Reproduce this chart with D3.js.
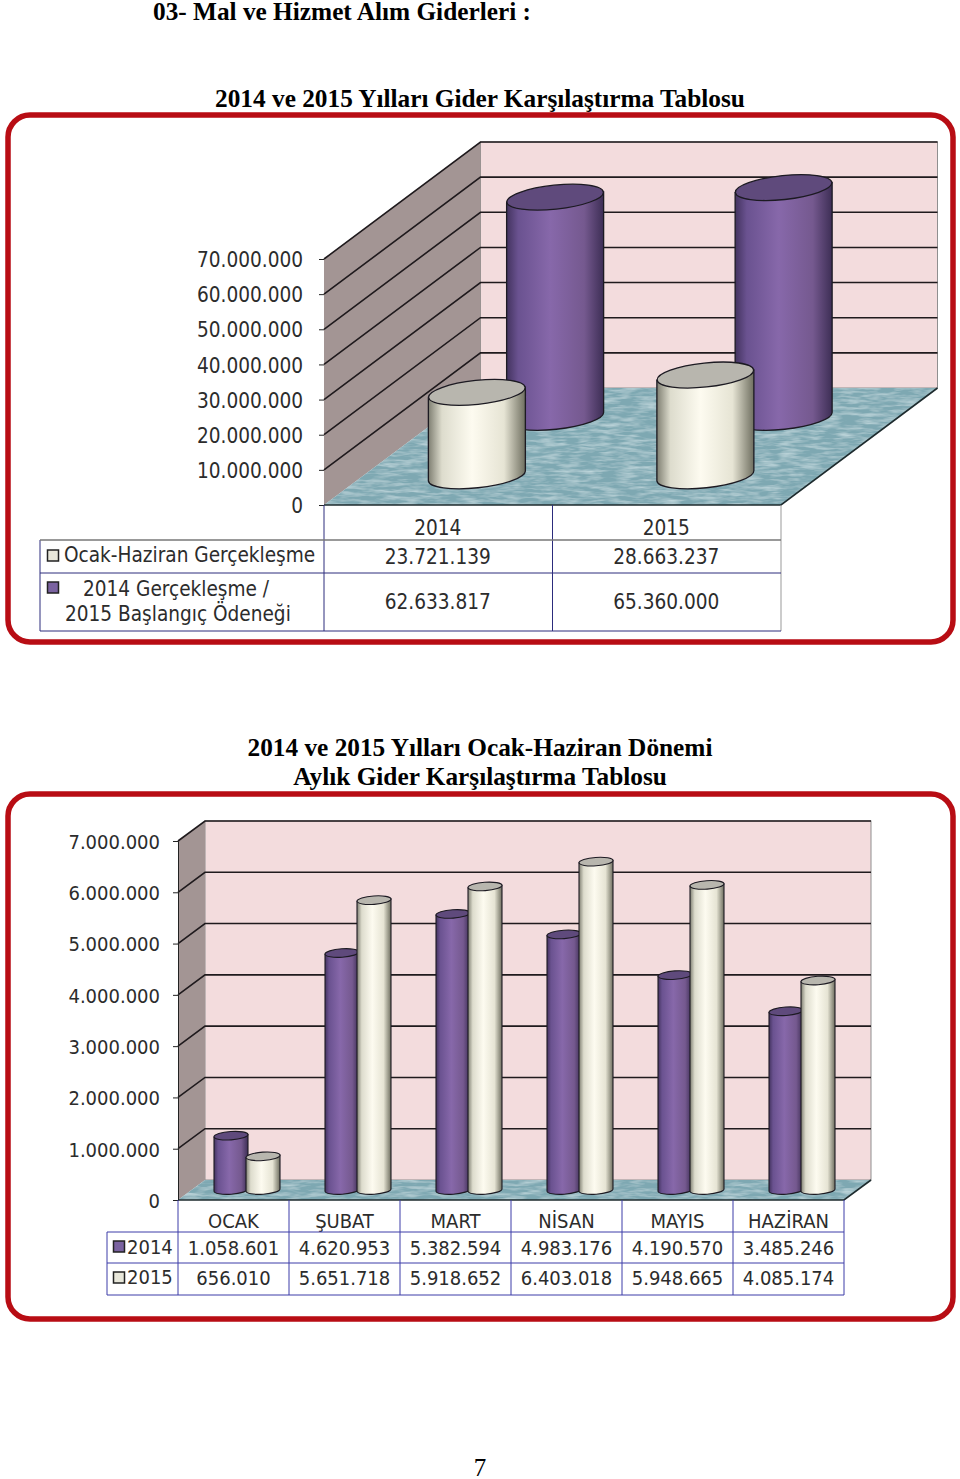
<!DOCTYPE html>
<html>
<head>
<meta charset="utf-8">
<script src="https://cdn.jsdelivr.net/npm/d3@7"></script>
<style>
  html, body { margin: 0; padding: 0; background: #fff; }
  svg { display: block; }
  .title { font-family: "Liberation Serif", serif; font-weight: bold; font-size: 25.3px; fill: #000; }
  .lbl { font-family: "DejaVu Sans Condensed", "DejaVu Sans", sans-serif; font-size: 20.6px; fill: #2c2c2c; }
  .tick text { font-family: "DejaVu Sans Condensed", "DejaVu Sans", sans-serif; font-size: 20.6px; fill: #2c2c2c; }
  .small .lbl, .small .tick text { font-size: 20px; }
</style>
</head>
<body>
<script>
// Data
var years = ["2014", "2015"];
var legend1 = ["Ocak-Haziran Gerçekleşme", "2014 Gerçekleşme /", "2015 Başlangıç Ödeneği"];
var ocakHaziran = [23721139, 28663237];
var baslangic = [62633817, 65360000];

var months = ["OCAK", "ŞUBAT", "MART", "NİSAN", "MAYIS", "HAZİRAN"];
var monthly2014 = [1058601, 4620953, 5382594, 4983176, 4190570, 3485246];
var monthly2015 = [656010, 5651718, 5918652, 6403018, 5948665, 4085174];

var ticks1 = [0, 10000000, 20000000, 30000000, 40000000, 50000000, 60000000, 70000000];
var ticks2 = [0, 1000000, 2000000, 3000000, 4000000, 5000000, 6000000, 7000000];

var width = 960, height = 1479;
var trLocale = d3.formatLocale({decimal: ",", thousands: ".", grouping: [3], currency: ["", ""]});
var fmt = trLocale.format(",d");

var svg = d3.select("body").append("svg")
    .attr("width", width)
    .attr("height", height);

// Gradients and floor texture
var defs = svg.append("defs");

function cylGradient(id, stops) {
    var grad = defs.append("linearGradient").attr("id", id);
    stops.forEach(function(s) {
        grad.append("stop").attr("offset", s[0]).attr("stop-color", s[1]);
    });
}
cylGradient("purpleSide", [[0, "#43335f"], [0.12, "#6a5290"], [0.45, "#8768aa"], [0.8, "#75598f"], [1, "#3d2e55"]]);
cylGradient("creamSide", [[0, "#7f7f72"], [0.14, "#dddccd"], [0.45, "#fdfbf0"], [0.78, "#e6e4d4"], [1, "#6f6f60"]]);

var water = defs.append("filter").attr("id", "water")
    .attr("x", 0).attr("y", 0).attr("width", 1).attr("height", 1);
water.append("feTurbulence")
    .attr("type", "fractalNoise")
    .attr("baseFrequency", "0.05 0.3")
    .attr("numOctaves", 3)
    .attr("seed", 4)
    .attr("result", "noise");
water.append("feColorMatrix")
    .attr("in", "noise")
    .attr("type", "matrix")
    .attr("values", "0 0 0 0 0.66  0 0 0 0 0.80  0 0 0 0 0.83  0 0 0 1.3 -0.5")
    .attr("result", "spots");
water.append("feComposite")
    .attr("in", "spots")
    .attr("in2", "SourceGraphic")
    .attr("operator", "in")
    .attr("result", "clipped");
var merge = water.append("feMerge");
merge.append("feMergeNode").attr("in", "SourceGraphic");
merge.append("feMergeNode").attr("in", "clipped");

// Page texts
function title(txt, y) {
    svg.append("text").attr("class", "title")
        .attr("x", 480).attr("y", y)
        .attr("text-anchor", "middle")
        .text(txt);
}
svg.append("text").attr("class", "title")
    .attr("x", 153).attr("y", 20)
    .text("03- Mal ve Hizmet Alım Giderleri :");
title("2014 ve 2015 Yılları Gider Karşılaştırma Tablosu", 107);
title("2014 ve 2015 Yılları Ocak-Haziran Dönemi", 756);
title("Aylık Gider Karşılaştırma Tablosu", 785);
svg.append("text")
    .attr("x", 480).attr("y", 1476)
    .attr("text-anchor", "middle")
    .style("font-family", "Liberation Serif")
    .style("font-size", "25px")
    .text("7");

function frame(y, h) {
    svg.append("rect")
        .attr("x", 8).attr("y", y)
        .attr("width", 945).attr("height", h)
        .attr("rx", 22).attr("ry", 22)
        .attr("fill", "#fff")
        .attr("stroke", "#b80d14")
        .attr("stroke-width", 5.5);
}
frame(115, 527);
frame(794, 525);

// One cylinder, cx = centre, base = y of base centre, top = y of top centre
function cylinder(g, cx, base, top, rx, ry, tilt, side, cap, sw) {
    var lift = rx * Math.sin(tilt * Math.PI / 180);
    var arc = "A" + rx + "," + ry + " " + (-tilt) + " 0 0 ";
    g.append("path")
        .attr("d", "M" + (cx - rx) + "," + (top + lift) +
            "L" + (cx - rx) + "," + (base + lift) +
            arc + (cx + rx) + "," + (base - lift) +
            "L" + (cx + rx) + "," + (top - lift) + "Z")
        .attr("fill", "url(#" + side + ")")
        .attr("stroke", "#1c1a22")
        .attr("stroke-width", sw);
    g.append("ellipse")
        .attr("cx", cx).attr("cy", top)
        .attr("rx", rx).attr("ry", ry)
        .attr("transform", "rotate(" + (-tilt) + " " + cx + " " + top + ")")
        .attr("fill", cap)
        .attr("stroke", "#1c1a22")
        .attr("stroke-width", sw);
}

// 3D box with back wall, side wall, floor, grid lines and value axis
function drawBox(c) {
    var g = svg.append("g").attr("class", c.cls || null);
    var x0 = c.x.range()[0], x1 = c.x.range()[1];
    var y0 = c.y.range()[0], yTop = c.y.range()[1];

    g.append("rect")
        .attr("x", x0 + c.dx).attr("y", yTop + c.dy)
        .attr("width", x1 - x0).attr("height", y0 - yTop)
        .attr("fill", "#f3dcdd")
        .attr("stroke", "#8f8f8f").attr("stroke-width", 1);

    g.append("polygon")
        .attr("points", [[x0, y0], [x0, yTop], [x0 + c.dx, yTop + c.dy], [x0 + c.dx, y0 + c.dy]].join(" "))
        .attr("fill", "#a39594");

    g.append("polygon")
        .attr("points", [[x0, y0], [x0 + c.dx, y0 + c.dy], [x1 + c.dx, y0 + c.dy], [x1, y0]].join(" "))
        .attr("fill", "#7ea8b2")
        .attr("filter", "url(#water)");

    g.append("path")
        .attr("d", "M" + x0 + "," + y0 + "L" + x1 + "," + y0 + "L" + (x1 + c.dx) + "," + (y0 + c.dy))
        .attr("fill", "none").attr("stroke", "#1e2b2e").attr("stroke-width", 1.6);

    g.selectAll(".grid")
        .data(c.ticks.filter(function(d) { return d > 0; }))
        .enter().append("path")
        .attr("class", "grid")
        .attr("d", function(d) {
            var y = c.y(d);
            return "M" + x0 + "," + y + "L" + (x0 + c.dx) + "," + (y + c.dy) + "L" + (x1 + c.dx) + "," + (y + c.dy);
        })
        .attr("fill", "none")
        .attr("stroke", "#1f1a1d")
        .attr("stroke-width", 1.6);

    var axis = d3.axisLeft(c.y)
        .tickValues(c.ticks)
        .tickFormat(fmt)
        .tickSize(5)
        .tickPadding(c.padding);
    var ax = g.append("g")
        .attr("transform", "translate(" + x0 + ",0)")
        .call(axis);
    ax.selectAll(".tick line").attr("stroke", "#222");
    ax.selectAll(".tick text").attr("dy", "0.37em");
    ax.select(".domain").attr("stroke", c.axisLine || "none").attr("stroke-width", 1);
    return g;
}

function line(g, x1, y1, x2, y2, col, w) {
    g.append("line")
        .attr("x1", x1).attr("y1", y1)
        .attr("x2", x2).attr("y2", y2)
        .attr("stroke", col)
        .attr("stroke-width", w || 1);
}

function label(g, txt, x, y, anchor) {
    g.append("text").attr("class", "lbl")
        .attr("x", x).attr("y", y)
        .attr("text-anchor", anchor || "middle")
        .text(txt);
}

function legendKey(g, x, y, size, fill) {
    g.append("rect")
        .attr("x", x).attr("y", y)
        .attr("width", size).attr("height", size)
        .attr("fill", fill)
        .attr("stroke", "#222")
        .attr("stroke-width", 1.5);
}

// Chart 1
var x1 = d3.scaleBand().domain(years).range([324, 781]);
var y1 = d3.scaleLinear().domain([0, 70000000]).range([505, 259]);
var box1 = drawBox({x: x1, y: y1, dx: 156.5, dy: -117, ticks: ticks1, axisLine: "none", padding: 16});

function draw1(values, depth, side, cap) {
    values.forEach(function(v, i) {
        var cx = x1(years[i]) + x1.bandwidth() / 2 + 156.5 * depth - 0.5;
        var base = y1(0) - 117 * depth;
        cylinder(box1, cx, base, base - (y1(0) - y1(v)), 48.5, 12, 6, side, cap, 1.3);
    });
}
draw1(baslangic, 0.75, "purpleSide", "#5f4a7c");
draw1(ocakHaziran, 0.25, "creamSide", "#b8b6ae");

var t1 = svg.append("g");
var band1 = x1.bandwidth();
var rows1 = [540, 573, 631];
var navy = "#2c2c7c";
line(t1, 324, 505, 324, 631, navy);
line(t1, x1("2015"), 505, x1("2015"), 631, navy);
line(t1, 781, 505, 781, 631, "#999");
line(t1, 40, 540, 40, 631, navy);
line(t1, 40, rows1[0], 781, rows1[0], "#777", 1.4);
line(t1, 40, rows1[1], 781, rows1[1], navy);
line(t1, 40, rows1[2], 781, rows1[2], navy);
years.forEach(function(yr, i) {
    var cx = x1(yr) + band1 / 2 - 0.5;
    label(t1, yr, cx, 535);
    label(t1, fmt(ocakHaziran[i]), cx, 564);
    label(t1, fmt(baslangic[i]), cx, 609);
});
legendKey(t1, 47.5, 550, 11, "#e8e7da");
legendKey(t1, 47.5, 582, 11, "#7a62a0");
label(t1, legend1[0], 64, 562, "start");
label(t1, legend1[1], 83, 596, "start");
label(t1, legend1[2], 65, 621, "start");

// Chart 2
var x2 = d3.scaleBand().domain(months).range([178, 844]);
var y2 = d3.scaleLinear().domain([0, 7000000]).range([1200, 841]);
var box2 = drawBox({x: x2, y: y2, dx: 27, dy: -20, ticks: ticks2, axisLine: "#222", padding: 13, cls: "small"});
var shift2 = d3.scaleBand().domain(years).range([-32, 32]);

months.forEach(function(m, i) {
    var cx = x2(m) + x2.bandwidth() / 2 + 13.5;
    var base = y2(0) - 10;
    [[monthly2014[i], "2014", "purpleSide", "#5f4a7c"],
     [monthly2015[i], "2015", "creamSide", "#b8b6ae"]].forEach(function(s) {
        var c = cx + shift2(s[1]) + shift2.bandwidth() / 2;
        cylinder(box2, c, base, base - (y2(0) - y2(s[0])), 17, 4.2, 4, s[2], s[3], 1.1);
    });
});

var t2 = svg.append("g").attr("class", "small");
var blue = "#3c3ca8";
months.forEach(function(m, i) {
    var cx = x2(m) + x2.bandwidth() / 2;
    line(t2, x2(m), 1200, x2(m), 1295, blue);
    label(t2, m, cx, 1228);
    label(t2, fmt(monthly2014[i]), cx, 1255);
    label(t2, fmt(monthly2015[i]), cx, 1285);
});
line(t2, 844, 1200, 844, 1295, blue);
line(t2, 107, 1232, 107, 1295, blue);
[1232, 1263, 1295].forEach(function(y) { line(t2, 107, y, 844, y, blue); });
legendKey(t2, 113.5, 1241, 11, "#7a62a0");
legendKey(t2, 113.5, 1272, 11, "#e8e7da");
label(t2, years[0], 127, 1254, "start");
label(t2, years[1], 127, 1284, "start");
</script>
</body>
</html>
